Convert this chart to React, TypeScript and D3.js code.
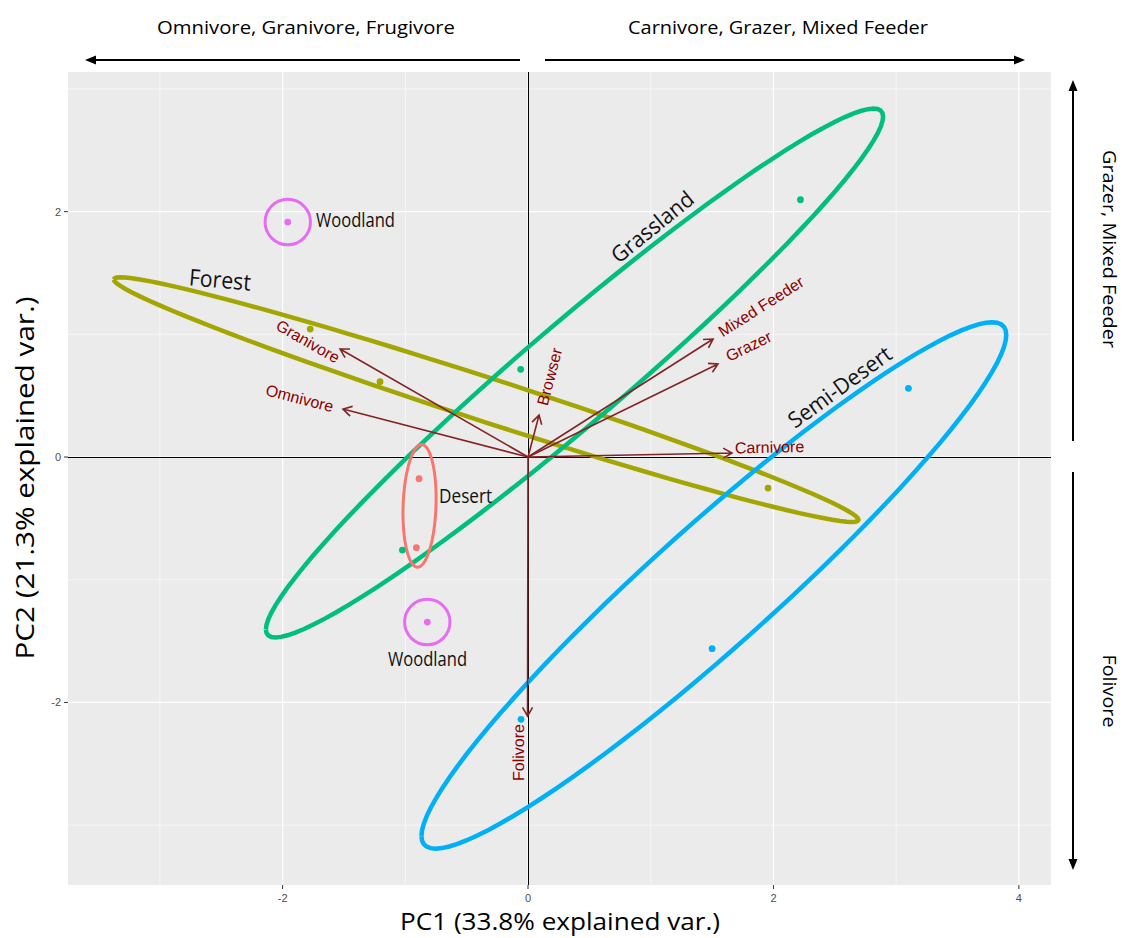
import React, { useEffect, useRef } from 'react';
import * as d3 from 'd3';

// habitat groups, ggplot default hue order
const habitats = ['Desert', 'Forest', 'Grassland', 'Semi-Desert', 'Woodland'];
const habitatColors = ['#F8766D', '#A3A500', '#00BF7D', '#00B0F6', '#E76BF3'];

// site scores
const siteHabitat = [
  'Desert', 'Desert',
  'Forest', 'Forest', 'Forest',
  'Grassland', 'Grassland', 'Grassland',
  'Semi-Desert', 'Semi-Desert', 'Semi-Desert',
  'Woodland', 'Woodland',
];
const sitePC1 = [-0.888, -0.910, -1.775, -1.206, 1.956, -0.060, 2.220, -1.024, 3.100, 1.500, -0.057, -1.958, -0.821];
const sitePC2 = [-0.177, -0.739, 1.043, 0.614, -0.253, 0.715, 2.097, -0.758, 0.560, -1.562, -2.138, 1.915, -1.345];

// feeding guild loadings
const guilds = ['Granivore', 'Omnivore', 'Browser', 'Mixed Feeder', 'Grazer', 'Carnivore', 'Folivore'];
const guildPC1 = [-1.532, -1.508, 0.090, 1.508, 1.548, 1.662, -0.004];
const guildPC2 = [0.880, 0.391, 0.342, 0.962, 0.758, 0.033, -2.111];

// ticks
const xTicks = [-2, 0, 2, 4];
const yTicks = [-2, 0, 2];
const xMinor = [-3, -1, 1, 3];
const yMinor = [-3, -1, 1, 3];

// habitat names written on the plot
const tagText = ['Forest', 'Grassland', 'Semi-Desert', 'Desert', 'Woodland', 'Woodland'];
const tagPC1 = [-2.510, 1.007, 2.535, -0.509, -1.406, -0.819];
const tagPC2 = [1.451, 1.883, 0.579, -0.314, 1.936, -1.642];

const W = 1124;
const H = 938;
const X_DOMAIN: [number, number] = [-3.749, 4.262];
const Y_DOMAIN: [number, number] = [-3.488, 3.138];
const ELLIPSE_PROB = 0.68;

const MYRIAD = "'Open Sans', 'Noto Sans', sans-serif";
const ARIAL = "'Liberation Sans', Arial, sans-serif";

// label tweaks for loading names: gap past the tip, shift across the text
const guildNudge: Record<string, [number, number]> = {
  Granivore: [-3.5, 9.5],
  Omnivore: [10, 0.5],
  Browser: [10.5, 0.5],
  'Mixed Feeder': [9, -1.5],
  Grazer: [11, -2.5],
  Carnivore: [3, -5],
  Folivore: [8, -9],
};
const tagStyle = [
  { size: 23, angle: 4.8, len: 62 },
  { size: 22, angle: -39, len: 99 },
  { size: 22, angle: -36, len: 122 },
  { size: 20, angle: 0, len: 53 },
  { size: 20, angle: 0, len: 79 },
  { size: 20, angle: 0, len: 79 },
];

const App: React.FC = () => {
  const ref = useRef<SVGSVGElement>(null);

  useEffect(() => {
    if (!ref.current) return;
    const svg = d3.select(ref.current);
    svg.selectAll('*').remove();

    const x = d3.scaleLinear().domain(X_DOMAIN).range([68, 1051]);
    const y = d3.scaleLinear().domain(Y_DOMAIN).range([885, 72]);
    const color = d3.scaleOrdinal<string, string>().domain(habitats).range(habitatColors);
    const [px0, px1] = x.range();
    const [py1, py0] = y.range();

    // panel
    svg.append('rect')
      .attr('x', px0).attr('y', py0)
      .attr('width', px1 - px0).attr('height', py1 - py0)
      .attr('fill', '#EBEBEB');

    const grid = svg.append('g').attr('stroke', '#fff');
    xMinor.forEach(v => grid.append('line')
      .attr('x1', x(v)).attr('x2', x(v)).attr('y1', py0).attr('y2', py1).attr('stroke-width', 0.6));
    yMinor.forEach(v => grid.append('line')
      .attr('y1', y(v)).attr('y2', y(v)).attr('x1', px0).attr('x2', px1).attr('stroke-width', 0.6));
    xTicks.forEach(v => grid.append('line')
      .attr('x1', x(v)).attr('x2', x(v)).attr('y1', py0).attr('y2', py1).attr('stroke-width', 1.2));
    yTicks.forEach(v => grid.append('line')
      .attr('y1', y(v)).attr('y2', y(v)).attr('x1', px0).attr('x2', px1).attr('stroke-width', 1.2));

    // axes at zero, kept crisp so they read black
    const zx = Math.round(x(0)) + 0.5;
    const zy = Math.round(y(0)) + 0.5;
    svg.append('line').attr('x1', px0).attr('x2', px1).attr('y1', zy).attr('y2', zy)
      .attr('stroke', '#000').attr('stroke-width', 1);
    svg.append('line').attr('x1', zx).attr('x2', zx).attr('y1', py0).attr('y2', py1)
      .attr('stroke', '#000').attr('stroke-width', 1);

    // tick marks + labels
    const ticks = svg.append('g');
    xTicks.forEach(v => {
      ticks.append('line').attr('x1', x(v)).attr('x2', x(v)).attr('y1', py1).attr('y2', py1 + 4)
        .attr('stroke', '#333').attr('stroke-width', 1);
      ticks.append('text').attr('x', x(v)).attr('y', py1 + 17)
        .attr('text-anchor', 'middle').attr('font-family', ARIAL).attr('font-size', 11)
        .attr('fill', '#4D4D4D').text(v < 0 ? `-${-v}` : `${v}`);
    });
    yTicks.forEach(v => {
      ticks.append('line').attr('x1', px0 - 4).attr('x2', px0).attr('y1', y(v)).attr('y2', y(v))
        .attr('stroke', '#333').attr('stroke-width', 1);
      ticks.append('text').attr('x', px0 - 7).attr('y', y(v) + 4)
        .attr('text-anchor', 'end').attr('font-family', ARIAL).attr('font-size', 11)
        .attr('fill', '#4D4D4D').text(v < 0 ? `-${-v}` : `${v}`);
    });

    // normal-theory ellipses (ggbiplot style) for groups with 3+ sites
    const ed = Math.sqrt(-2 * Math.log(1 - ELLIPSE_PROB));
    const theta = d3.range(0, 101).map(i => -Math.PI + (2 * Math.PI * i) / 100);
    const line = d3.line<[number, number]>().x(d => x(d[0])).y(d => y(d[1]));
    const ellLayer = svg.append('g').attr('fill', 'none');

    habitats.forEach(h => {
      const idx = siteHabitat.map((g, i) => (g === h ? i : -1)).filter(i => i >= 0);
      if (idx.length < 3) return;
      const xs = idx.map(i => sitePC1[i]);
      const ys = idx.map(i => sitePC2[i]);
      const mx = d3.mean(xs)!;
      const my = d3.mean(ys)!;
      const n = idx.length;
      const a = d3.sum(xs, v => (v - mx) ** 2) / (n - 1);
      const c = d3.sum(ys, v => (v - my) ** 2) / (n - 1);
      const b = d3.sum(idx, (_, k) => (xs[k] - mx) * (ys[k] - my)) / (n - 1);
      // upper cholesky factor
      const r11 = Math.sqrt(a);
      const r12 = b / r11;
      const r22 = Math.sqrt(Math.max(c - r12 * r12, 0));
      const pts: [number, number][] = theta.map(t => [
        mx + ed * Math.cos(t) * r11,
        my + ed * (Math.cos(t) * r12 + Math.sin(t) * r22),
      ]);
      ellLayer.append('path').attr('d', line(pts))
        .attr('stroke', color(h)).attr('stroke-width', 4.5);
    });

    // hand-marked Desert ellipse and Woodland rings
    const desertIdx = siteHabitat.map((g, i) => (g === 'Desert' ? i : -1)).filter(i => i >= 0);
    const dcx = d3.mean(desertIdx, i => sitePC1[i])! + 0.015;
    const dcy = d3.mean(desertIdx, i => sitePC2[i])! + 0.06;
    const desertPts: [number, number][] = theta.map(t => {
      const ex = 0.134 * Math.cos(t);
      const ey = 0.50 * Math.sin(t);
      const rot = (-2 * Math.PI) / 180;
      return [dcx + ex * Math.cos(rot) - ey * Math.sin(rot), dcy + ex * Math.sin(rot) + ey * Math.cos(rot)];
    });
    ellLayer.append('path').attr('d', line(desertPts))
      .attr('stroke', color('Desert')).attr('stroke-width', 3);

    siteHabitat.forEach((g, i) => {
      if (g !== 'Woodland') return;
      const r = x(0.185) - x(0);
      ellLayer.append('circle')
        .attr('cx', x(sitePC1[i])).attr('cy', y(sitePC2[i])).attr('r', r)
        .attr('stroke', color(g)).attr('stroke-width', 3);
    });

    // loading arrows
    const arrowColor = '#832424';
    const arrows = svg.append('g');
    guilds.forEach((name, i) => {
      const tx = x(guildPC1[i]);
      const ty = y(guildPC2[i]);
      const ox = x(0);
      const oy = y(0);
      const ang = Math.atan2(ty - oy, tx - ox);
      const head = 10;
      const spread = Math.PI / 6;
      arrows.append('path')
        .attr('d', `M${ox},${oy}L${tx},${ty}` +
          `M${tx - head * Math.cos(ang - spread)},${ty - head * Math.sin(ang - spread)}` +
          `L${tx},${ty}L${tx - head * Math.cos(ang + spread)},${ty - head * Math.sin(ang + spread)}`)
        .attr('fill', 'none').attr('stroke', arrowColor).attr('stroke-width', 1.6);

      const ggAngle = (Math.atan(guildPC2[i] / guildPC1[i]) * 180) / Math.PI;
      const right = guildPC1[i] > 0;
      const [gap, dy] = guildNudge[name] || [6, 0];
      arrows.append('text')
        .attr('transform', `translate(${tx},${ty}) rotate(${-ggAngle})`)
        .attr('x', right ? gap : -gap).attr('y', dy)
        .attr('text-anchor', right ? 'start' : 'end')
        .attr('dominant-baseline', 'central')
        .attr('font-family', ARIAL).attr('font-size', 16)
        .attr('fill', '#8B0000').text(name);
    });

    // site points
    svg.append('g').selectAll('circle')
      .data(siteHabitat.map((g, i) => i))
      .enter().append('circle')
      .attr('cx', i => x(sitePC1[i])).attr('cy', i => y(sitePC2[i]))
      .attr('r', 3.4).attr('fill', i => color(siteHabitat[i]));

    // habitat names
    tagText.forEach((t, i) => {
      const s = tagStyle[i];
      svg.append('text')
        .attr('transform', `translate(${x(tagPC1[i])},${y(tagPC2[i])}) rotate(${s.angle})`)
        .attr('text-anchor', 'middle').attr('dominant-baseline', 'central')
        .attr('font-family', MYRIAD).attr('font-size', s.size)
        .attr('textLength', s.len).attr('lengthAdjust', 'spacingAndGlyphs')
        .attr('fill', '#111').text(t);
    });

    // axis titles
    svg.append('text').attr('x', 560).attr('y', 930)
      .attr('text-anchor', 'middle').attr('font-family', MYRIAD).attr('font-size', 24)
      .attr('textLength', 320).attr('lengthAdjust', 'spacingAndGlyphs')
      .attr('fill', '#000').text('PC1 (33.8% explained var.)');
    svg.append('text').attr('transform', 'translate(34,478) rotate(-90)')
      .attr('text-anchor', 'middle').attr('font-family', MYRIAD).attr('font-size', 25)
      .attr('textLength', 363).attr('lengthAdjust', 'spacingAndGlyphs')
      .attr('fill', '#000').text('PC2 (21.3% explained var.)');

    // direction annotations
    const note = svg.append('g').attr('fill', '#000');
    note.append('text').attr('x', 306).attr('y', 34).attr('text-anchor', 'middle')
      .attr('font-family', MYRIAD).attr('font-size', 19)
      .attr('textLength', 298).attr('lengthAdjust', 'spacingAndGlyphs')
      .text('Omnivore, Granivore, Frugivore');
    note.append('text').attr('x', 778).attr('y', 34).attr('text-anchor', 'middle')
      .attr('font-family', MYRIAD).attr('font-size', 19)
      .attr('textLength', 300).attr('lengthAdjust', 'spacingAndGlyphs')
      .text('Carnivore, Grazer, Mixed Feeder');
    note.append('text').attr('transform', 'translate(1103,249) rotate(90)').attr('text-anchor', 'middle')
      .attr('font-family', MYRIAD).attr('font-size', 19)
      .attr('textLength', 198).attr('lengthAdjust', 'spacingAndGlyphs')
      .text('Grazer, Mixed Feeder');
    note.append('text').attr('transform', 'translate(1103,691) rotate(90)').attr('text-anchor', 'middle')
      .attr('font-family', MYRIAD).attr('font-size', 19)
      .attr('textLength', 73).attr('lengthAdjust', 'spacingAndGlyphs')
      .text('Folivore');

    const bigArrow = (x1: number, y1: number, x2: number, y2: number) => {
      const ang = Math.atan2(y2 - y1, x2 - x1);
      const len = 11;
      const half = 4.5;
      const bx = x2 - len * Math.cos(ang);
      const by = y2 - len * Math.sin(ang);
      note.append('line').attr('x1', x1).attr('y1', y1).attr('x2', bx).attr('y2', by)
        .attr('stroke', '#000').attr('stroke-width', 2);
      note.append('path')
        .attr('d', `M${x2},${y2}L${bx - half * Math.sin(ang)},${by + half * Math.cos(ang)}` +
          `L${bx + half * Math.sin(ang)},${by - half * Math.cos(ang)}Z`);
    };
    bigArrow(520, 60, 85, 60);
    bigArrow(545, 60, 1025, 60);
    bigArrow(1073, 441, 1073, 80);
    bigArrow(1073, 472, 1073, 870);
  }, []);

  return (
    <svg
      ref={ref}
      width={W}
      height={H}
      style={{ position: 'absolute', left: 0, top: 0, background: '#fff' }}
    />
  );
};

export default App;
